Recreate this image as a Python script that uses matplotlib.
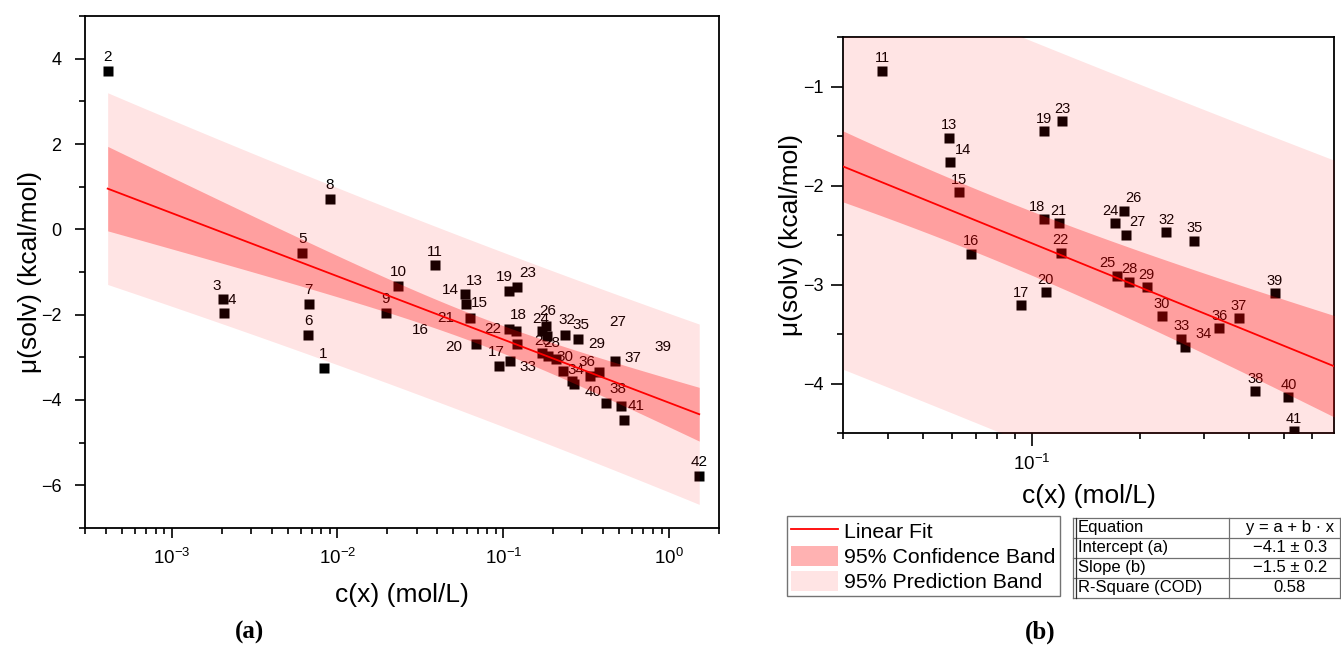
import numpy as np
import matplotlib
matplotlib.use("Agg")
import matplotlib.pyplot as plt
from matplotlib.lines import Line2D
from matplotlib.patches import Patch
from matplotlib.ticker import LogLocator, LogFormatterSciNotation, NullFormatter, MultipleLocator

plt.rcParams['font.family'] = ['Liberation Sans', 'DejaVu Sans']
plt.rcParams['mathtext.fontset'] = 'custom'
plt.rcParams['mathtext.rm'] = 'Liberation Sans'
plt.rcParams['mathtext.it'] = 'Liberation Sans:italic'
plt.rcParams['mathtext.bf'] = 'Liberation Sans:bold'

# ---- data: compound number, concentration c(x) [mol/L], mu(solv) [kcal/mol]
compound_ids = [1, 2, 3, 4, 5, 6, 7, 8, 9, 10,
                11, 13, 14, 15, 16, 17, 18, 19, 20, 21,
                22, 23, 24, 25, 26, 27, 28, 29, 30, 32,
                33, 34, 35, 36, 37, 38, 39, 40, 41, 42]
concentration = [0.00824, 0.000411, 0.00203, 0.00206, 0.00612, 0.00665, 0.00671, 0.00899, 0.0195, 0.0232,
                 0.0386, 0.0590, 0.0593, 0.0628, 0.0681, 0.0937, 0.1084, 0.1084, 0.1094, 0.1188,
                 0.1206, 0.1216, 0.1706, 0.1722, 0.1804, 0.1824, 0.1862, 0.2088, 0.230, 0.2366,
                 0.260, 0.266, 0.283, 0.332, 0.376, 0.417, 0.472, 0.516, 0.535, 1.52]
mu_solv = [-3.24, 3.72, -1.63, -1.96, -0.55, -2.47, -1.74, 0.72, -1.95, -1.32,
           -0.84, -1.52, -1.76, -2.07, -2.69, -3.21, -2.34, -1.45, -3.08, -2.38,
           -2.68, -1.35, -2.38, -2.91, -2.26, -2.50, -2.97, -3.03, -3.32, -2.47,
           -3.55, -3.63, -2.56, -3.44, -3.34, -4.08, -3.09, -4.14, -4.48, -5.78]

# label placement (pixel offsets of each number from its marker)
label_shift_a = {3: (-6, 13), 4: (8, 13), 13: (9, 13.5), 14: (-15, 14), 15: (10, 15),
                 16: (-55, 14), 17: (-2, 14), 18: (9, 14.5), 19: (-4.5, 14), 20: (-56, 14),
                 21: (-70, 13), 22: (-24, 15), 23: (10.5, 14), 24: (-1, 12), 25: (0, 12),
                 26: (1.5, 15), 27: (71, 14.5), 28: (4, 13.5), 29: (40, 14.5), 30: (2, 14),
                 32: (2, 15), 33: (-44, 14), 34: (2, 14), 35: (3, 14), 36: (-3, 14.5),
                 37: (34.5, 14), 38: (12, 14), 39: (48, 14), 40: (-28, 14), 41: (12.5, 14.5)}
label_shift_b = {14: (13, 12), 18: (-7, 12), 24: (-5, 12.3), 25: (-9, 13), 26: (9, 13.4),
                 27: (12, 13), 34: (19, 12.7)}

T975 = 2.024  # Student t, two-sided 95 %, 38 degrees of freedom

W, H = 1341, 654
RED = '#FF0000'
PRED_ALPHA = 0.105
CONF_ALPHA = 0.30

# ---- linear fit of mu against log10(c) with confidence and prediction bands
lx = np.log10(np.array(concentration))
y = np.array(mu_solv)
n = len(lx)
slope, intercept = np.polyfit(lx, y, 1)
xm = lx.mean()
sxx = np.sum((lx - xm) ** 2)
resid = y - (intercept + slope * lx)
s = np.sqrt(np.sum(resid ** 2) / (n - 2))
r2 = 1 - np.sum(resid ** 2) / np.sum((y - y.mean()) ** 2)
se_slope = s / np.sqrt(sxx)
se_int = s * np.sqrt(1 / n + xm ** 2 / sxx)


def fit_bands(lgrid):
    yhat = intercept + slope * lgrid
    h = (lgrid - xm) ** 2 / sxx
    ci = T975 * s * np.sqrt(1 / n + h)
    pi = T975 * s * np.sqrt(1 + 1 / n + h)
    return yhat, ci, pi


fig = plt.figure(figsize=(W / 100, H / 100), dpi=100)
ax_a = fig.add_axes([85 / W, 1 - 528 / H, 634 / W, 512 / H])
ax_b = fig.add_axes([843 / W, 1 - 433 / H, 491 / W, 396 / H])


def draw_panel(ax, lgrid, fs_label, shifts, base_dy):
    ax.plot(concentration, mu_solv, 's', color='black', ms=7.4, mec='none', zorder=2)
    for cid, cx, cy in zip(compound_ids, concentration, mu_solv):
        dx, dy = shifts.get(cid, (0, base_dy))
        ax.annotate(str(cid), (cx, cy), xytext=(dx, dy), textcoords='offset pixels',
                    ha='center', va='center', fontsize=fs_label, color='black', zorder=2.5)
    yhat, ci, pi = fit_bands(lgrid)
    xg = 10 ** lgrid
    ax.fill_between(xg, yhat - pi, yhat + pi, color=RED, alpha=PRED_ALPHA, lw=0, zorder=3)
    ax.fill_between(xg, yhat - ci, yhat + ci, color=RED, alpha=CONF_ALPHA, lw=0, zorder=3.1)
    ax.plot(xg, yhat, color=RED, lw=1.3, zorder=4)
    ax.set_xscale('log')
    ax.xaxis.set_major_locator(LogLocator(base=10))
    ax.xaxis.set_minor_locator(LogLocator(base=10, subs=np.arange(2, 10)))
    ax.xaxis.set_major_formatter(LogFormatterSciNotation())
    ax.xaxis.set_minor_formatter(NullFormatter())
    for sp in ax.spines.values():
        sp.set_linewidth(1.3)
    ax.tick_params(which='both', direction='out', top=False, right=False, width=1.2)


# panel (a)
draw_panel(ax_a, np.linspace(lx.min(), lx.max(), 200), 11, label_shift_a, 13.5)
ax_a.set_xlim(3e-4, 2)
ax_a.set_ylim(-7, 5)
ax_a.yaxis.set_major_locator(MultipleLocator(2))
ax_a.yaxis.set_minor_locator(MultipleLocator(1))
ax_a.tick_params(which='major', length=7)
ax_a.tick_params(axis='y', which='major', pad=10, labelsize=13)
ax_a.tick_params(axis='x', which='major', pad=7, labelsize=13.5)
ax_a.tick_params(which='minor', length=4)
ax_a.set_xlabel('c(x) (mol/L)', fontsize=19, labelpad=11)
ax_a.set_ylabel('μ(solv) (kcal/mol)', fontsize=19, labelpad=-1)

# panel (b)
draw_panel(ax_b, np.linspace(np.log10(0.03), np.log10(0.69), 200), 10.5, label_shift_b, 12.5)
ax_b.set_xlim(0.03, 0.69)
ax_b.set_ylim(-4.5, -0.5)
ax_b.yaxis.set_major_locator(MultipleLocator(1))
ax_b.yaxis.set_minor_locator(MultipleLocator(0.5))
ax_b.tick_params(which='major', length=9)
ax_b.tick_params(axis='y', which='major', pad=5, labelsize=13)
ax_b.tick_params(axis='x', which='major', pad=6, labelsize=13.5)
ax_b.tick_params(which='minor', length=4)
ax_b.set_xlabel('c(x) (mol/L)', fontsize=19, labelpad=7)
ax_b.set_ylabel('μ(solv) (kcal/mol)', fontsize=19, labelpad=0)

# legend
handles = [Line2D([], [], color=RED, lw=1.3),
           Patch(facecolor=RED, alpha=CONF_ALPHA, edgecolor='none'),
           Patch(facecolor=RED, alpha=PRED_ALPHA, edgecolor='none')]
leg = fig.legend(handles, ['Linear Fit', '95% Confidence Band', '95% Prediction Band'],
                 loc='upper left', bbox_to_anchor=(787 / W, 1 - 516 / H),
                 bbox_transform=fig.transFigure, fontsize=15.3, frameon=True, fancybox=False,
                 edgecolor='#505050', borderpad=0.2, handlelength=2.2, handleheight=1.1,
                 handletextpad=0.3, labelspacing=0.18, borderaxespad=0)
leg.get_frame().set_linewidth(1.0)

# fit statistics table
def fmt(v):
    return f'{v:.1f}'.replace('-', '\u2212')

rows = ['Equation', 'Intercept (a)', 'Slope (b)', 'R-Square (COD)']
vals = ['y = a + b \u00b7 x', f'{fmt(intercept)} \u00b1 {se_int:.1f}',
        f'{fmt(slope)} \u00b1 {se_slope:.1f}', f'{r2:.2f}']
tx0, tx1, tcol = 1073, 1340, 1229
row_edges = [518, 537.5, 557.7, 577.7, 597.7]


def fx(px):
    return px / W


def fy(py):
    return 1 - py / H


line_kw = dict(color='#707070', lw=0.9, transform=fig.transFigure)
for ry in row_edges:
    fig.add_artist(Line2D([fx(tx0), fx(tx1)], [fy(ry), fy(ry)], **line_kw))
for cx in (tx0, tcol, tx1):
    fig.add_artist(Line2D([fx(cx), fx(cx)], [fy(row_edges[0]), fy(row_edges[-1])], **line_kw))
fig.add_artist(Line2D([fx(tx0 + 3), fx(tx0 + 3)], [fy(row_edges[0]), fy(row_edges[-1])],
                      color='#303030', lw=0.9, transform=fig.transFigure))
for i, (rname, rval) in enumerate(zip(rows, vals)):
    yc = fy((row_edges[i] + row_edges[i + 1]) / 2)
    fig.text(fx(tx0 + 5), yc, rname, ha='left', va='center', fontsize=12)
    fig.text(fx(1290), yc, rval, ha='center', va='center', fontsize=12)

# panel captions
fig.text(fx(250), fy(632), '(a)', ha='center', va='center', fontsize=18,
         family=['Liberation Serif', 'DejaVu Serif'], fontweight='bold')
fig.text(fx(1040), fy(632), '(b)', ha='center', va='center', fontsize=18,
         family=['Liberation Serif', 'DejaVu Serif'], fontweight='bold')

fig.savefig('out.png', dpi=100)
